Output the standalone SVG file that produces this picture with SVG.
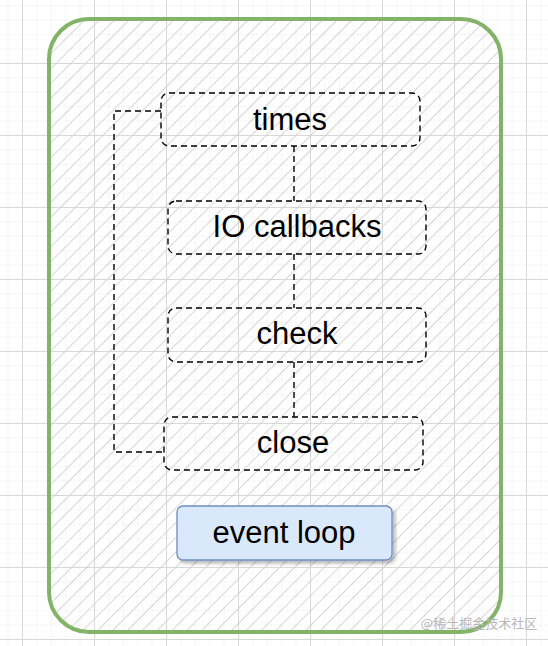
<svg xmlns="http://www.w3.org/2000/svg" width="548" height="646" viewBox="0 0 548 646">
<defs>
<pattern id="minor" width="14.4" height="14.4" patternUnits="userSpaceOnUse" x="22" y="63">
<path d="M0 0V14.4M0 0H14.4" fill="none" stroke="#eeeeee" stroke-width="1"/>
</pattern>
<pattern id="major" width="72" height="72" patternUnits="userSpaceOnUse" x="22" y="63">
<path d="M0.5 0V72M0 0.5H72" fill="none" stroke="#d8d8d8" stroke-width="1"/>
</pattern>
<pattern id="hatch" width="10.5" height="10.5" patternUnits="userSpaceOnUse" patternTransform="rotate(45)">
<line x1="0" y1="0" x2="0" y2="10.5" stroke="#d2d2d2" stroke-width="1.8"/>
</pattern>
<filter id="shadow" x="-10%" y="-10%" width="130%" height="140%">
<feDropShadow dx="3" dy="3" stdDeviation="1.5" flood-color="#000" flood-opacity="0.25"/>
</filter>
</defs>
<style>
.phase{fill:none;stroke:#000;stroke-width:1.4;stroke-dasharray:6 4}
.lbl{font-family:"Liberation Sans",Arial,sans-serif;font-size:31px;fill:#000;text-anchor:middle}
.conn{fill:none;stroke:#000;stroke-width:1.4;stroke-dasharray:6 4}
</style>
<rect width="548" height="646" fill="#fff"/>
<rect width="548" height="646" fill="url(#minor)"/>
<rect width="548" height="646" fill="url(#major)"/>
<g id="container">
<rect x="49" y="19" width="452" height="613" rx="40" fill="url(#hatch)" stroke="#82b366" stroke-width="4"/>
</g>
<g id="connectors">
<path class="conn" d="M294 146V201"/>
<path class="conn" d="M294 254V308"/>
<path class="conn" d="M294 362V417"/>
<path class="conn" d="M161 111H114V452H164"/>
</g>
<g id="times">
<rect class="phase" x="161" y="93" width="259" height="53" rx="8"/>
<text class="lbl" x="290" y="130">times</text>
</g>
<g id="io-callbacks">
<rect class="phase" x="168" y="201" width="258" height="53" rx="8"/>
<text class="lbl" x="297" y="237">IO callbacks</text>
</g>
<g id="check">
<rect class="phase" x="168" y="308" width="258" height="54" rx="8"/>
<text class="lbl" x="297" y="344">check</text>
</g>
<g id="close">
<rect class="phase" x="164" y="417" width="259" height="53" rx="8"/>
<text class="lbl" x="293" y="453">close</text>
</g>
<g id="event-loop">
<rect x="177" y="506" width="215" height="54" rx="6" fill="#dae8fc" stroke="#6c8ebf" stroke-width="1.3" filter="url(#shadow)"/>
<text class="lbl" x="284" y="543">event loop</text>
</g>
<text x="479" y="628" font-family="'Noto Sans CJK SC',sans-serif" font-size="13" fill="#b8b8b8" text-anchor="middle">@稀土掘金技术社区</text>
</svg>
